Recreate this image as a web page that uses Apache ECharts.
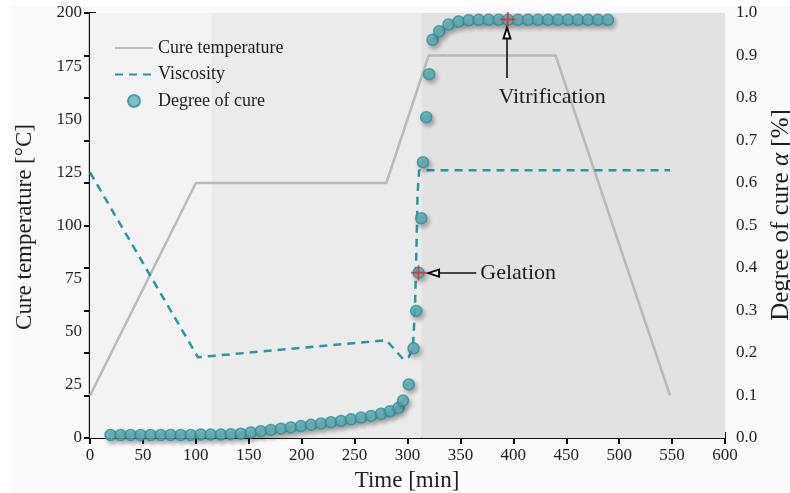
<!DOCTYPE html>
<html>
<head>
<meta charset="utf-8">
<script src="https://cdn.jsdelivr.net/npm/echarts@6/dist/echarts.min.js"></script>
<style>
  html, body { margin: 0; padding: 0; background: #ffffff; }
  #paper { position: absolute; left: 12px; top: 6px; width: 778px; height: 487px; background: #fafafa; }
  #chart { position: absolute; left: 0; top: 0; width: 790px; height: 493px; }
</style>
</head>
<body>
<div id="paper"></div>
<div id="chart"></div>
<script>
// Cure cycle: oven temperature program [°C] vs. time [min]
const tempTime  = [0, 100, 280, 320, 440, 548];
const tempValue = [20, 120, 120, 180, 180, 20];

// Resin viscosity trace (plotted against the temperature axis)
const viscTime  = [0, 102, 280, 289, 296, 301, 305, 307, 308.5, 309.5, 311, 548];
const viscValue = [125, 38, 46, 41, 37, 38, 42, 60, 90, 115, 126, 126];

// Degree of cure α (right axis)
const cureTime = [19.4, 28.9, 38.4, 47.8, 57.3, 66.8, 76.2, 85.7, 95.2, 104.6,
  114.1, 123.6, 133.0, 142.5, 152.0, 161.4, 170.9, 180.4, 189.8, 199.3,
  208.8, 218.2, 227.7, 237.2, 246.6, 256.1, 265.6, 275.0, 283.5, 291.5,
  295.8, 301.2, 305.7, 308.2, 310.4, 313.0, 314.6, 317.7, 320.4, 323.7,
  330.0, 338.8, 348.3, 357.8, 367.2, 376.7, 386.1, 395.0, 404.4, 413.9,
  423.3, 432.8, 442.2, 451.7, 461.1, 470.6, 480.0, 489.4];
const cureDegree = [0.007, 0.007, 0.007, 0.007, 0.007, 0.007, 0.007, 0.007, 0.007, 0.008,
  0.008, 0.008, 0.009, 0.010, 0.013, 0.016, 0.019, 0.022, 0.025, 0.028,
  0.031, 0.034, 0.037, 0.040, 0.044, 0.048, 0.052, 0.057, 0.063, 0.071,
  0.088, 0.126, 0.211, 0.299, 0.389, 0.517, 0.649, 0.755, 0.856, 0.937,
  0.957, 0.973, 0.980, 0.983, 0.984, 0.984, 0.984, 0.984, 0.984, 0.984,
  0.984, 0.984, 0.984, 0.984, 0.984, 0.984, 0.984, 0.984];

// Gelation and vitrification points (time, α)
const eventNames  = ['Gelation', 'Vitrification'];
const eventTime   = [310.4, 394.7];
const eventDegree = [0.389, 0.985];

// Arrow tail / head and caption anchor for each event (time, α)
const arrowTail   = [[365, 0.388], [394, 0.847]];
const arrowHead   = [[324.6, 0.388], [394, 0.953]];
const captionAt   = [[368.8, 0.388], [385.9, 0.802]];

// Cure stages shaded behind the curves (start, end in min)
const stageStart = [0, 115, 313];
const stageEnd   = [115, 313, 600];
const stageFill  = ['#f3f3f3', '#ebebeb', '#e2e2e2'];

// Axis ranges: [min, max, interval]
const xTicks = [0, 600, 50];
const yLeftTicks = [0, 200, 25];
const yRightTicks = [0, 1, 0.1];

const FONT = 'Liberation Serif';
const INK = '#1e1e1e';
const TEAL = '#2a95a3';
const GREY = '#b9b9b9';

const zip = (a, b) => a.map((v, i) => [v, b[i]]);

const chart = echarts.init(document.getElementById('chart'), null, { renderer: 'canvas' });

const frameAxis = {
  axisLine: { show: true, lineStyle: { color: '#111', width: 2.2 } },
  axisTick: { show: true, inside: true, length: 6, lineStyle: { color: '#111', width: 2 } },
  splitLine: { show: false },
  axisLabel: { fontFamily: FONT, fontSize: 17, color: INK }
};

const option = {
  backgroundColor: 'transparent',
  animation: false,
  grid: { left: 90, right: 65, top: 13, bottom: 55, containLabel: false },
  legend: {
    orient: 'vertical', left: 109, top: 34,
    itemWidth: 38, itemHeight: 12, itemGap: 8.5,
    data: [
      { name: 'Cure temperature', itemStyle: { opacity: 0 } },
      { name: 'Viscosity', itemStyle: { opacity: 0 } },
      { name: 'Degree of cure' }
    ],
    textStyle: { fontFamily: FONT, fontSize: 18, color: INK }
  },
  xAxis: [
    Object.assign({}, frameAxis, {
      type: 'value', min: xTicks[0], max: xTicks[1], interval: xTicks[2],
      axisLabel: Object.assign({}, frameAxis.axisLabel, { margin: 9 })
    }),
    Object.assign({}, frameAxis, {
      type: 'value', position: 'top', min: xTicks[0], max: xTicks[1], interval: xTicks[2],
      axisLabel: { show: false }
    })
  ],
  yAxis: [
    Object.assign({}, frameAxis, {
      type: 'value', min: yLeftTicks[0], max: yLeftTicks[1], interval: yLeftTicks[2],
      axisLabel: Object.assign({}, frameAxis.axisLabel, { margin: 8 })
    }),
    Object.assign({}, frameAxis, {
      type: 'value', position: 'right', min: yRightTicks[0], max: yRightTicks[1], interval: yRightTicks[2],
      axisLabel: Object.assign({}, frameAxis.axisLabel, {
        margin: 11, formatter: v => v.toFixed(1)
      })
    })
  ],
  graphic: [
    {
      type: 'text', x: 25, y: 227, rotation: Math.PI / 2,
      style: { text: 'Cure temperature [°C]', fontFamily: FONT, fontSize: 23, fill: INK,
               textAlign: 'center', textVerticalAlign: 'middle' }
    },
    {
      type: 'text', x: 781, y: 215, rotation: Math.PI / 2,
      style: {
        text: 'Degree of cure {a|α} [%]', fontFamily: FONT, fontSize: 25, fill: INK,
        textAlign: 'center', textVerticalAlign: 'middle',
        rich: { a: { fontFamily: FONT, fontSize: 25, fontStyle: 'italic', fill: INK } }
      }
    },
    {
      type: 'text', x: 407, y: 481,
      style: { text: 'Time [min]', fontFamily: FONT, fontSize: 23, fill: INK,
               textAlign: 'center', textVerticalAlign: 'middle' }
    }
  ],
  series: [
    {
      // shaded cure stages
      name: 'stages', type: 'line', data: [], z: 0, silent: true,
      markArea: {
        silent: true,
        data: stageStart.map((s, i) => [
          { xAxis: s, itemStyle: { color: stageFill[i], opacity: 1 } },
          { xAxis: stageEnd[i] }
        ])
      }
    },
    {
      name: 'Cure temperature', type: 'line', symbol: 'none', z: 2,
      data: zip(tempTime, tempValue),
      lineStyle: { color: GREY, width: 2.5 },
      itemStyle: { color: GREY }
    },
    {
      name: 'Viscosity', type: 'line', symbol: 'none', z: 3,
      data: zip(viscTime, viscValue),
      lineStyle: { color: TEAL, width: 2.5, type: [8, 6] },
      itemStyle: { color: TEAL }
    },
    {
      name: 'Degree of cure', type: 'scatter', yAxisIndex: 1, z: 4,
      symbol: 'circle', symbolSize: 11,
      data: zip(cureTime, cureDegree),
      itemStyle: {
        color: '#5db1bc', borderColor: '#2a8f9c', borderWidth: 1.5,
        shadowColor: 'rgba(0,0,0,0.35)', shadowBlur: 4, shadowOffsetX: 2, shadowOffsetY: 3
      }
    },
    {
      name: 'events', type: 'scatter', yAxisIndex: 1, z: 6, silent: true,
      symbol: 'path://M7,0H9V7H16V9H9V16H7V9H0V7H7Z', symbolSize: 15,
      data: zip(eventTime, eventDegree),
      itemStyle: { color: '#ff1a1a' },
      markLine: {
        silent: true, symbol: ['none', 'emptyTriangle'], symbolSize: [7, 11],
        lineStyle: { color: '#111', width: 1.6, type: 'solid' },
        label: { show: false },
        data: arrowTail.map((t, i) => [{ coord: t }, { coord: arrowHead[i] }])
      },
      markPoint: {
        silent: true, symbol: 'circle', symbolSize: 0,
        itemStyle: { color: 'transparent' },
        label: {
          show: true, position: 'right', distance: 0,
          fontFamily: FONT, fontSize: 22, color: INK,
          formatter: p => p.name
        },
        data: eventNames.map((n, i) => ({ name: n, coord: captionAt[i] }))
      }
    }
  ]
};

chart.setOption(option);
</script>
</body>
</html>
